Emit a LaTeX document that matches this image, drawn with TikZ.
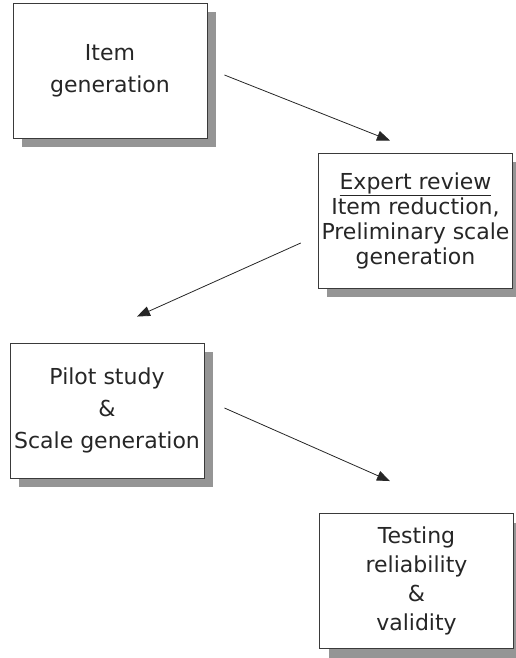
\documentclass[tikz,border=0pt]{standalone}
\usepackage{fontspec}
\setmainfont{DejaVu Sans}
\usetikzlibrary{arrows.meta,calc,positioning,shadows}
\definecolor{boxline}{HTML}{3A3A3A}
\definecolor{shadowgray}{HTML}{959595}
\tikzset{%
	stage/.style  = {draw=boxline, fill=white, rectangle, line width=0.9pt, minimum width=194pt, minimum height=135pt, align=center, text=black!85,
	                 drop shadow={shadow xshift=9pt, shadow yshift=-9pt, fill=shadowgray, opacity=1}}, % step box
	tight/.style  = {font=\fontsize{22}{25}\selectfont},
	loose/.style  = {font=\fontsize{22}{32}\selectfont},
	arrow/.style  = {line width=0.8pt, draw=black!85, -{Triangle[length=13pt,width=10pt]}},
}
\newcommand{\lowline}[1]{\underline{#1\vphantom{y}}}

\begin{document}
\begin{tikzpicture}[x=1pt,y=-1pt]
	\useasboundingbox (0,0) rectangle (516,658);
	\node [stage,loose] (item) at (110,70.5) {Item\\generation};
	\node [stage,tight] (expert) at (415.5,220.5) {\lowline{Expert review}\\Item reduction,\\Preliminary scale\\generation};
	\node [stage,loose] (pilot) at (107,410.5) {Pilot study\\\&\\Scale generation};
	\node [stage,font=\fontsize{22}{29}\selectfont] (testing) at (416.5,581) {Testing\\reliability\\\&\\validity};

	\coordinate (a1) at ($(item.east)+(17,4.5)$);
	\coordinate (b1) at ($(expert.north)+(-25.5,-12)$);
	\coordinate (a2) at ($(expert.west)+(-17,22.5)$);
	\coordinate (b2) at ($(pilot.north)+(30,-26)$);
	\coordinate (a3) at ($(pilot.east)+(20,-2.5)$);
	\coordinate (b3) at ($(testing.north)+(-26.5,-32)$);

	\draw[arrow] (a1) -- (b1);
	\draw[arrow] (a2) -- (b2);
	\draw[arrow] (a3) -- (b3);
\end{tikzpicture}
\end{document}
